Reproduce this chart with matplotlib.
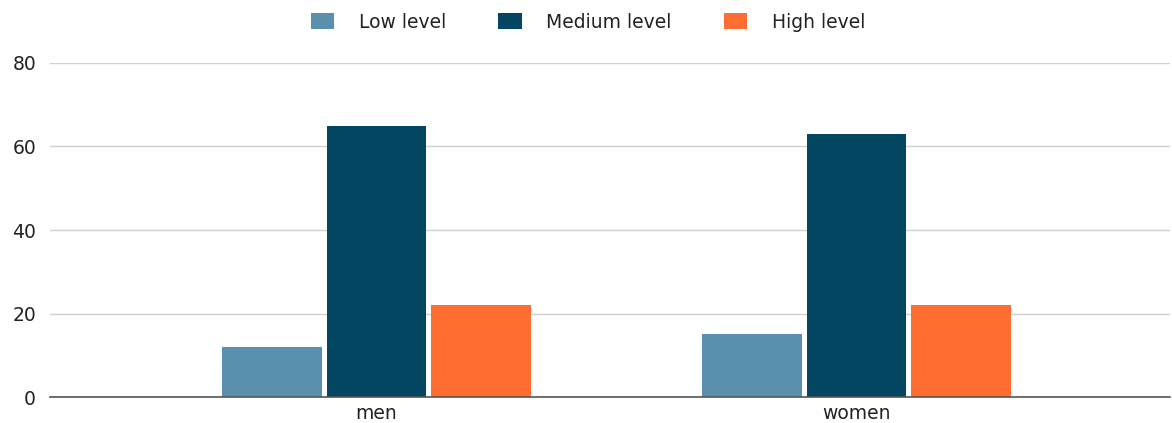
import matplotlib.pyplot as plt
import numpy as np

plt.rcParams['font.family'] = ['DejaVu Sans']

# Datos
categorias = ['men', 'women']
series = ['Low level', 'Medium level', 'High level']
low_vals = [12, 15]
medium_vals = [65, 63]
high_vals = [22, 22]
colores = ['#5990AE', '#024662', '#FF6D31']

fig = plt.figure(figsize=(11.72, 4.23), dpi=100)
ax = fig.add_axes([50 / 1172, 1 - 397 / 423, 1 - 50 / 1172 - 2 / 1172, (397 - 63) / 423])

x = np.arange(len(categorias))
ancho = 0.208
paso = 0.218
for i, (vals, nombre) in enumerate(zip([low_vals, medium_vals, high_vals], series)):
    ax.bar(x + (i - 1) * paso, vals, width=ancho, color=colores[i], label=nombre, zorder=3)

ax.set_xlim(-0.68, 1.653)
ax.set_ylim(0, 80)
ax.set_yticks([0, 20, 40, 60, 80])
ax.set_xticks(x)
ax.set_xticklabels(categorias)
ax.grid(axis='y', color='#d0d0d0', linewidth=1, zorder=0)
for lado in ['top', 'right', 'left']:
    ax.spines[lado].set_visible(False)
ax.spines['bottom'].set_color('#555555')
ax.spines['bottom'].set_linewidth(1.2)
ax.spines['bottom'].set_zorder(4)
ax.tick_params(axis='both', length=0, labelsize=13.5, colors='#222222')
ax.tick_params(axis='y', pad=10)
ax.tick_params(axis='x', pad=5)

fig.legend(loc='center', bbox_to_anchor=(588 / 1172, 1 - 22 / 423), ncol=3, frameon=False,
           fontsize=13.5, handlelength=1.25, handleheight=1.0, columnspacing=2.8, handletextpad=1.3,
           labelcolor='#222222')

fig.savefig('out.png', dpi=100)
